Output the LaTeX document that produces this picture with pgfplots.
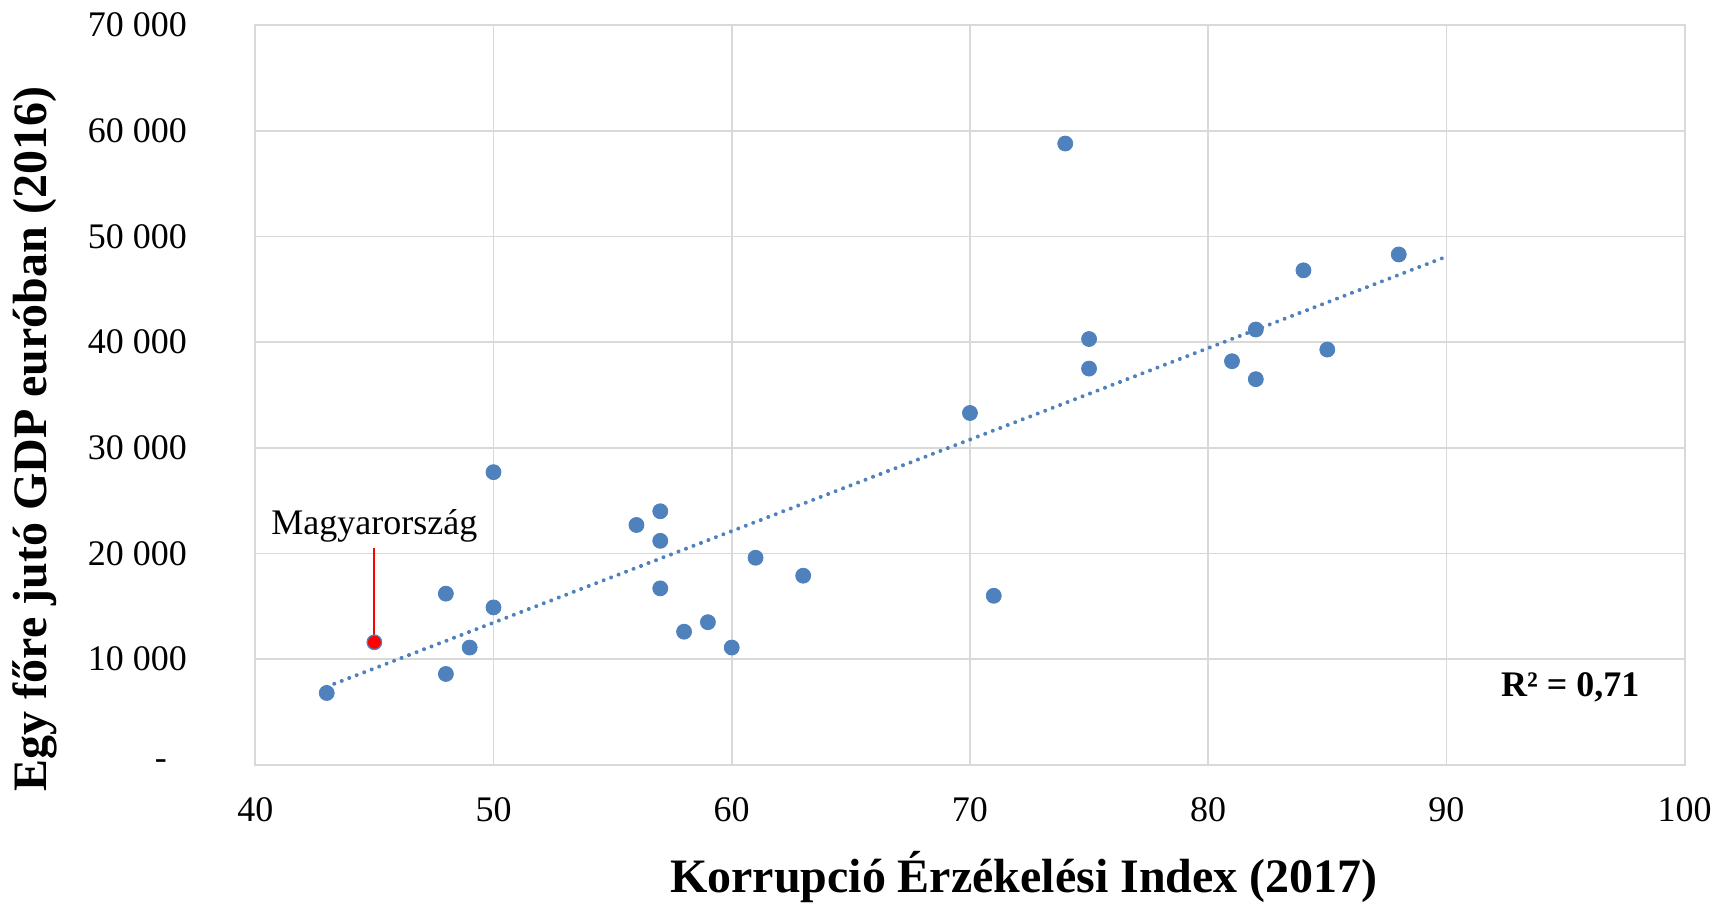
\documentclass[border=0pt]{standalone}
\usepackage{fontspec}
\setmainfont{Liberation Serif}
\usepackage{pgfplots}
\pgfplotsset{compat=1.18}
\definecolor{ptblue}{RGB}{79,129,189}
\definecolor{gridgray}{RGB}{217,217,217}
\begin{document}
\begin{tikzpicture}
\path[use as bounding box] (-127.7pt,-70.1pt) rectangle (732.2pt,382.6pt);
\begin{axis}[
  at={(0,0)}, anchor=south west,
  scale only axis,
  width=715pt, height=370pt,
  xmin=40, xmax=100, ymin=0, ymax=70000,
  xtick={40,50,...,100},
  ytick={0,10000,...,70000},
  scaled y ticks=false,
  yticklabels={-\hspace*{10pt},10 000,20 000,30 000,40 000,50 000,60 000,70 000},
  /pgf/number format/assume math mode=true,
  tick label style={font=\fontsize{18}{20}\selectfont},
  yticklabel style={anchor=east, inner sep=0pt, xshift=-34pt},
  xticklabel style={anchor=north, inner sep=0pt, yshift=-16.3pt},
  major tick length=0pt,
  grid=major,
  major grid style={gridgray, line width=0.9pt},
  axis line style={gridgray, line width=0.9pt},
  every axis x label/.style={at={(rel axis cs:0.5,0)}, anchor=base, yshift=-64pt, xshift=27pt, font=\fontsize{24}{28}\selectfont\bfseries},
  every axis y label/.style={at={(rel axis cs:0,0.5)}, xshift=-110pt, yshift=-22pt, rotate=90, anchor=center, inner sep=0pt, font=\fontsize{24}{28}\selectfont\bfseries},
  xlabel={Korrupció Érzékelési Index (2017)},
  ylabel={Egy főre jutó GDP euróban (2016)},
  clip=false,
]
\addplot[ptblue, line width=2pt, line cap=round, dash pattern=on 0.01pt off 4pt] coordinates {(43,7400) (90,48100)};
\addplot[only marks, mark=*, mark size=3.75pt, ptblue, mark options={fill=ptblue, draw=ptblue}] coordinates {
(43,6800) (45,11600) (48,16200) (48,8600) (49,11100) (50,14900) (50,27700)
(56,22700) (57,24000) (57,21200) (57,16700) (58,12600) (59,13500) (60,11100)
(61,19600) (63,17900) (70,33300) (71,16000) (74,58800) (75,40300) (75,37500)
(81,38200) (82,41200) (82,36500) (84,46800) (85,39300) (88,48300)
};
\addplot[red, line width=1pt] coordinates {(45,20500) (45,11600)};
\addplot[only marks, mark=*, mark size=3pt, mark options={fill=red, draw=red}] coordinates {(45,11600)};
\node[font=\fontsize{18}{20}\selectfont, anchor=center] at (axis cs:45,22600) {Magyarország};
\node[font=\fontsize{18}{20}\selectfont\bfseries, anchor=center] at (axis cs:95.2,7350) {R² = 0,71};
\end{axis}
\end{tikzpicture}
\end{document}
